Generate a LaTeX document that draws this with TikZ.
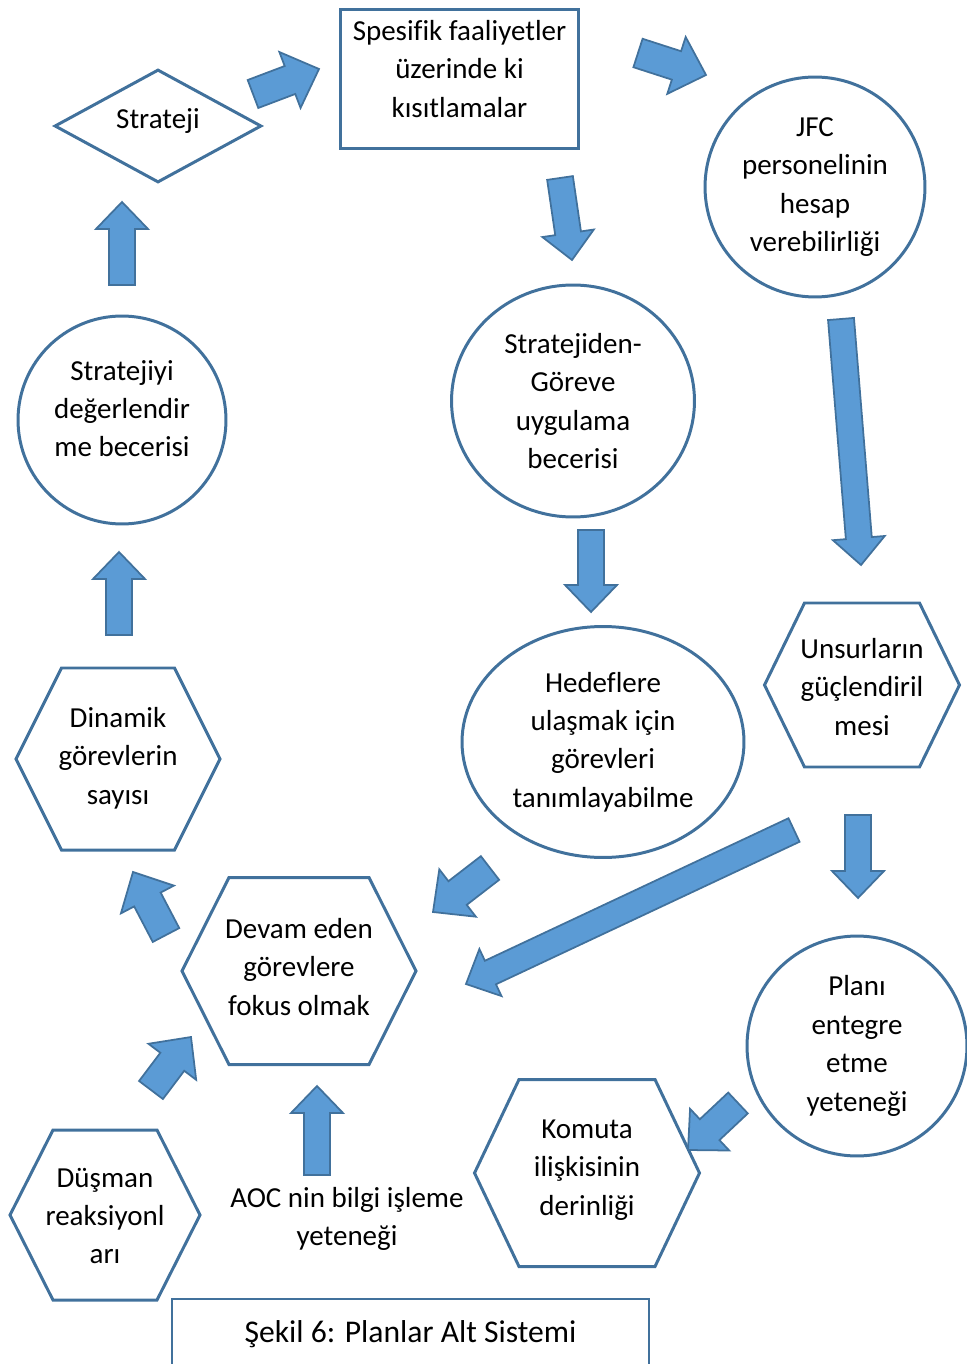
\documentclass[tikz,border=0pt]{standalone}
\usepackage{fontspec}
\setmainfont{Carlito}[Ligatures=NoCommon]
\usetikzlibrary{shapes.geometric}
\usetikzlibrary{calc}
\definecolor{edgeblue}{HTML}{41719C}
\definecolor{fillblue}{HTML}{5B9BD5}

\tikzset{
  txt/.style={align=center, inner sep=0pt, font=\fontsize{16.5}{21.9}\selectfont},
  outline/.style={draw=edgeblue, line width=1.7pt},
  barrow/.style={fill=fillblue, draw=edgeblue, line width=1pt},
}

% hexagon round a point: centre, half width, half height, half top edge
\newcommand\hexagon[4]{%
  \draw[outline] ($(#1)+(-#2,0)$) -- ($(#1)+(-#4,-#3)$) -- ($(#1)+(#4,-#3)$)
    -- ($(#1)+(#2,0)$) -- ($(#1)+(#4,#3)$) -- ($(#1)+(-#4,#3)$) -- cycle;}

% block arrow from tail to tip, optional size factor
\newcommand\blockarrow[3][1]{%
  \path ($(#3)!#1*0.54cm!(#2)$) coordinate (base);
  \draw[barrow] ($(#2)!#1*0.26cm!90:(#3)$) -- ($(base)!#1*0.26cm!90:(#3)$)
    -- ($(base)!#1*0.52cm!90:(#3)$) -- (#3) -- ($(base)!#1*0.52cm!-90:(#3)$)
    -- ($(base)!#1*0.26cm!-90:(#3)$) -- ($(#2)!#1*0.26cm!-90:(#3)$) -- cycle;}

\begin{document}
\begin{tikzpicture}[x=0.02cm, y=-0.02cm]
\useasboundingbox (0,0) rectangle (966,1364);

% nodes
\node[txt, outline, diamond, aspect=1.83, minimum width=4.14cm, minimum height=2.26cm,
  text height=0.38cm, text depth=0.26cm] (strat) at (158,126) {Strateji};
\node[txt, outline, rectangle, anchor=north, minimum width=4.78cm,
  text height=2.16cm, text depth=0.62cm] (limits) at (459.5,8) {Spesifik faaliyetler\\üzerinde ki\\kısıtlamalar};
\node[txt, outline, circle, minimum size=4.4cm] (jfc) at (815,187) {JFC\\personelinin\\hesap\\verebilirliği};
\node[txt, outline, circle, minimum size=4.16cm, text height=1.94cm, text depth=0.46cm] (assess) at (122,420) {Stratejiyi\\değerlendir\\me becerisi};
\node[txt, outline, ellipse, minimum width=4.86cm, minimum height=4.64cm] (s2t) at (573,401) {Stratejiden-\\Göreve\\uygulama\\becerisi};
\node[txt, outline, ellipse, minimum width=5.64cm, minimum height=4.62cm] (targets) at (603,742) {Hedeflere\\ulaşmak için\\görevleri\\tanımlayabilme};
\node[txt] (unsur) at (862,687) {Unsurların\\güçlendiril\\mesi};
\node[txt] (dyn) at (118,758) {Dinamik\\görevlerin\\sayısı};
\node[txt] (focus) at (299,967) {Devam eden\\görevlere\\fokus olmak};
\node[txt, outline, circle, minimum size=4.4cm] (plan) at (857,1046) {Planı\\entegre\\etme\\yeteneği};
\node[txt] (command) at (587,1170) {Komuta\\ilişkisinin\\derinliği};
\node[txt] (enemy) at (105,1216) {Düşman\\reaksiyonl\\arı};
\node[txt] (aoc) at (347,1219) {AOC nin bilgi işleme\\yeteneği};
\node[txt, draw=edgeblue, line width=1.2pt, minimum width=9.54cm, minimum height=1.4cm,
  font=\fontsize{18}{22}\selectfont] (caption) at (410.5,1334) {Şekil 6: Planlar Alt Sistemi};

% hexagon outlines
\hexagon{$(unsur)+(0,-2)$}{97.5}{82}{57.5}
\hexagon{$(dyn)+(0,1)$}{102}{91}{56.5}
\hexagon{$(focus)+(0,4)$}{117}{93.5}{70}
\hexagon{$(command)+(0,3)$}{112.5}{93.5}{68}
\hexagon{$(enemy)+(0,-1)$}{95}{85}{52}

% arrow ends
\coordinate (a1s) at (253,94);   \coordinate (a1e) at (319,69);
\coordinate (a2s) at (638,53);   \coordinate (a2e) at (706,75);
\coordinate (a3s) at (560,178);  \coordinate (a3e) at (572,260);
\coordinate (a4s) at (841,319);  \coordinate (a4e) at (861,565);
\coordinate (a5s) at (122,285);  \coordinate (a5e) at (122,202);
\coordinate (a6s) at (119,635);  \coordinate (a6e) at (119,552);
\coordinate (a7s) at (591,530);  \coordinate (a7e) at (591,612);
\coordinate (a8s) at (858,815);  \coordinate (a8e) at (858,898);
\coordinate (a9s) at (490,868);  \coordinate (a9e) at (433,912);
\coordinate (a10s) at (794,830); \coordinate (a10e) at (466,984);
\coordinate (a11s) at (166,935); \coordinate (a11e) at (133,872);
\coordinate (a12s) at (151,1090); \coordinate (a12e) at (191,1037);
\coordinate (a13s) at (317,1175); \coordinate (a13e) at (317,1086);
\coordinate (a14s) at (738,1103); \coordinate (a14e) at (688,1150);

% arrows
\blockarrow[1.15]{a1s}{a1e}
\blockarrow[1.15]{a2s}{a2e}
\blockarrow{a3s}{a3e}
\blockarrow{a4s}{a4e}
\blockarrow{a5s}{a5e}
\blockarrow{a6s}{a6e}
\blockarrow{a7s}{a7e}
\blockarrow{a8s}{a8e}
\blockarrow[1.15]{a9s}{a9e}
\blockarrow{a10s}{a10e}
\blockarrow[1.15]{a11s}{a11e}
\blockarrow[1.15]{a12s}{a12e}
\blockarrow{a13s}{a13e}
\blockarrow[1.1]{a14s}{a14e}
\end{tikzpicture}
\end{document}
